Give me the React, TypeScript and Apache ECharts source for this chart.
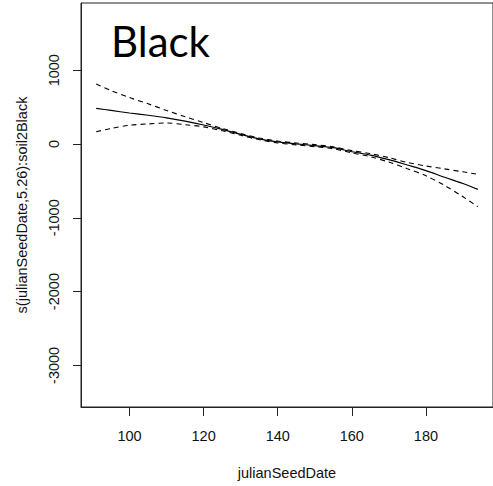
import React, { useEffect, useRef } from "react";
import * as echarts from "echarts";

const xValues = [91, 95, 100, 105, 110, 115, 120, 125, 130, 135, 140, 145, 150, 155, 160, 165, 170, 175, 180, 185, 190, 194];
const fitValues = [484, 455, 420, 390, 355, 310, 258, 198, 130, 70, 28, 2, -22, -50, -105, -150, -212, -285, -360, -450, -535, -614];
const upperValues = [813, 725, 630, 545, 455, 370, 290, 212, 143, 82, 40, 14, -8, -38, -90, -130, -185, -250, -298, -337, -377, -410];
const lowerValues = [167, 210, 255, 272, 285, 262, 232, 180, 118, 58, 14, -12, -36, -65, -120, -172, -245, -335, -430, -560, -715, -849];
const xTicks = [100, 120, 140, 160, 180];
const yTicks = [-3000, -2000, -1000, 0, 1000];

const pairs = (ys: number[]) => xValues.map((x, i) => [x, ys[i]]);

export default function App() {
  const ref = useRef<HTMLDivElement>(null);
  useEffect(() => {
    if (!ref.current) return;
    const chart = echarts.init(ref.current, null, { renderer: "svg" });
    const font = "'Liberation Sans', Arial, sans-serif";
    chart.setOption({
      animation: false,
      backgroundColor: "#fff",
      title: {
        text: "Black",
        left: 106,
        top: 15,
        textStyle: { fontFamily: "Lato, 'Open Sans', sans-serif", fontSize: 42, fontWeight: "normal", color: "#000" },
      },
      grid: {
        left: 81,
        top: 3,
        right: -4,
        bottom: 79,
        show: true,
        borderColor: "#222",
        borderWidth: 1,
        backgroundColor: "transparent",
      },
      xAxis: {
        type: "value",
        min: 86.9,
        max: 198.1,
        name: "julianSeedDate",
        nameLocation: "middle",
        nameGap: 58,
        nameTextStyle: { fontFamily: font, fontSize: 14.5, color: "#111" },
        splitLine: { show: false },
        axisLine: { show: true, onZero: false, lineStyle: { color: "#222", width: 1 } },
        axisTick: { show: true, length: 9, customValues: xTicks, lineStyle: { color: "#222" } },
        axisLabel: { customValues: xTicks, margin: 21, fontFamily: font, fontSize: 14.5, color: "#111", formatter: (v: number) => String(v) },
      },
      yAxis: {
        type: "value",
        min: -3564,
        max: 1911,
        name: "s(julianSeedDate,5.26):soil2Black",
        nameLocation: "middle",
        nameGap: 52,
        nameRotate: 90,
        nameTextStyle: { fontFamily: font, fontSize: 14.5, color: "#111" },
        splitLine: { show: false },
        axisLine: { show: true, onZero: false, lineStyle: { color: "#222", width: 1 } },
        axisTick: { show: true, length: 8, customValues: yTicks, lineStyle: { color: "#222" } },
        axisLabel: { customValues: yTicks, rotate: 90, margin: 20, fontFamily: font, fontSize: 14.5, color: "#111", formatter: (v: number) => String(v) },
      },
      series: [
        {
          type: "line",
          data: pairs(fitValues),
          showSymbol: false,
          smooth: 0.3,
          lineStyle: { color: "#000", width: 1.2 },
        },
        {
          type: "line",
          data: pairs(upperValues),
          showSymbol: false,
          smooth: 0.3,
          lineStyle: { color: "#000", width: 1.1, type: [5, 4] },
        },
        {
          type: "line",
          data: pairs(lowerValues),
          showSymbol: false,
          smooth: 0.3,
          lineStyle: { color: "#000", width: 1.1, type: [5, 4] },
        },
      ],
    });
    return () => chart.dispose();
  }, []);
  return (
    <div
      ref={ref}
      style={{ position: "fixed", left: 0, top: 0, width: 493, height: 486 }}
    />
  );
}
